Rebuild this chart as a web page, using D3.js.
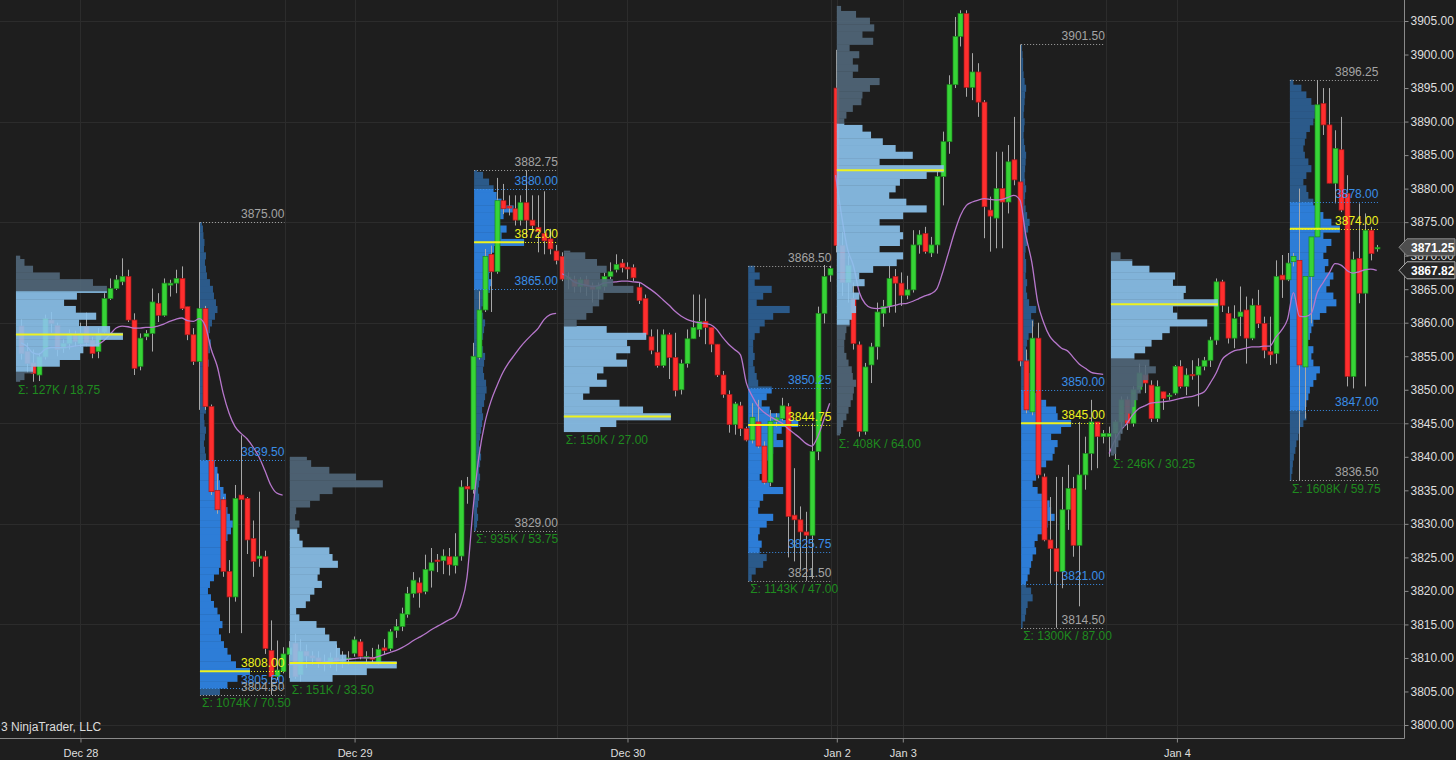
<!DOCTYPE html>
<html><head><meta charset="utf-8">
<script src="https://cdn.jsdelivr.net/npm/d3@7/dist/d3.min.js"></script>
<style>
html,body{margin:0;padding:0;background:#1e1e1e;overflow:hidden;}
svg{display:block;font-family:"Liberation Sans",Arial,Helvetica,sans-serif;}
</style></head><body>
<svg id="chart" width="1456" height="760"></svg>
<script>
// ---------------- DATA ----------------
const candleOpen = [
3859.5,3855.7,3854,3852.2,3854.9,3860.4,3859.6,3856.2,3856.9,3858.2,
3856.9,3859.4,3857.4,3855.7,3858.6,3863.6,3865.1,3866.1,3866.9,3860.4,
3853.5,3857.9,3858.4,3862.9,3861.1,3865.6,3865.9,3866.6,3862.4,3858.2,
3854.2,3862.1,3847.5,3835,3833.6,3822.9,3819.1,3834.3,3833.8,3827.8,
3824.8,3825.1,3811.1,3807.2,3808,3810.5,3812.2,3807.5,3811,3810.3,
3810,3809.4,3809,3810,3809.5,3809.8,3810.7,3812.4,3810,3810.1,
3809.4,3811.5,3811.4,3814.1,3814.7,3816.5,3819.6,3821.2,3819.9,3823,
3824.6,3824.5,3825.1,3823.8,3825.2,3835.6,3835.1,3854.8,3861.9,3870.2,
3867.6,3878.2,3877.4,3877,3875.3,3877.9,3875.3,3874.2,3873.3,3872.5,
3870.7,3869.9,3866.5,3866.4,3865.4,3866.4,3865.5,3865,3865.4,3866.9,
3867.9,3868.9,3868.3,3868.2,3865.3,3863.6,3857.9,3855.6,3853.6,3858.2,
3854.8,3850,3853.9,3857.6,3859,3860.2,3859.3,3856.8,3852.2,3849.3,
3844.8,3847.6,3844.2,3842.5,3845.2,3841.6,3836.2,3845.3,3845.7,3847.5,
3831.3,3830.6,3828.8,3828.3,3840.8,3861.4,3867.1,3895,3871.5,3866,
3863.6,3856.7,3843.8,3853.7,3856.4,3861.4,3862.4,3866.9,3865.9,3864.1,
3864.9,3871.6,3873.3,3870.4,3871.6,3881.8,3887,3895.5,3902.7,3906.1,
3895.1,3897.4,3892.9,3876.8,3875.6,3880,3878,3884.3,3881,3854.3,
3846.7,3857.7,3837,3827.6,3826.3,3822.9,3832.1,3835.3,3826.8,3837.3,
3840.5,3845.2,3843,3843,3843.5,3845.2,3848.5,3845,3850,3852.2,
3850.7,3845.7,3849.7,3849,3849.5,3853.5,3850.5,3852.3,3852.2,3853.5,
3854.4,3857.4,3866.1,3861.4,3857.7,3860.9,3861.9,3857.7,3862.6,3859.9,
3855.7,3855.4,3867.1,3866.4,3869.1,3869.3,3853.4,3866.9,3872.8,3892.7,
3889.5,3880.8,3885.8,3879.3,3852,3869.6,3864.4,3873.8,3871];
const candleHigh = [
3860.5,3857,3856,3855.5,3861.2,3861.6,3860,3857.5,3859,3858.8,
3860,3861.5,3857.9,3859.2,3864.4,3866.6,3867.1,3869.6,3867.9,3861.4,
3858.4,3858.9,3865.1,3864.4,3866.6,3866.4,3867.9,3868.4,3862.4,3859.2,
3875,3862.5,3847.8,3837.5,3834,3824.6,3835.8,3843.2,3834,3830.5,
3834.8,3826,3815.6,3812.6,3811.6,3812.5,3813.6,3812.8,3812,3811,
3811,3810.5,3810.8,3812,3811,3811,3813.2,3812.8,3811,3811.5,
3812,3812.8,3814.3,3815.8,3817.5,3820.6,3822.8,3822,3825.4,3826.4,
3825.5,3826.2,3826.4,3828.6,3836.5,3837,3857,3864.7,3871,3871.5,
3881.6,3880.7,3879,3879,3879,3882.75,3879,3879,3879.6,3874,
3871.6,3870.5,3867.5,3867,3866.8,3867,3866,3866,3867.5,3869,
3870.2,3869.5,3869,3868.7,3866,3864.2,3859,3859,3859,3858.5,
3858.5,3854.5,3859,3864.2,3864.2,3863.6,3859.3,3856.8,3852.8,3849.9,
3848.2,3848.2,3844.5,3848,3848.5,3842.3,3847,3846.5,3848.8,3848,
3838.3,3832.6,3831.8,3845,3862.4,3868.6,3868.5,3900.7,3873.5,3870,
3866,3857.2,3854,3857,3863,3863.4,3868.5,3868,3867.5,3867,
3873.8,3873.8,3874.3,3872.8,3882.8,3888.5,3896.9,3905.6,3906.6,3906.6,
3900.2,3898.7,3893.2,3878.8,3885.5,3885.5,3886.5,3890.7,3901.5,3856,
3860.3,3860,3837.5,3834,3837,3837,3838.8,3837,3845.2,3843,
3848.5,3845.2,3844,3844.5,3845.5,3849,3849,3850.5,3853.9,3853.7,
3851.4,3851.4,3849.7,3849.5,3853.7,3854.4,3853.2,3854.4,3854.7,3854.9,
3857.9,3866.6,3866.4,3862.4,3862.6,3865.4,3863.9,3863.6,3864.9,3860.9,
3860.9,3869.3,3870.1,3870.4,3870.4,3880,3866.9,3872.8,3896.2,3895,
3895,3888.7,3890.7,3882,3870.6,3877.8,3876.3,3874.3,3871.6];
const candleLow = [
3854.5,3852.5,3851.2,3851.3,3854.5,3858.5,3855,3855.5,3856,3856.5,
3856.4,3856.5,3854.7,3854.7,3858.4,3863.4,3864.9,3865.6,3860.1,3852.2,
3852.9,3857.4,3855.7,3860.1,3860.9,3863.9,3864.4,3861.9,3857.4,3853.7,
3847,3847,3834.3,3831.5,3822.1,3813.7,3818.4,3813.7,3825.5,3822.1,
3823.6,3810.6,3804.5,3806.7,3807.7,3807,3806.9,3806.5,3808.5,3809,
3808.5,3808,3808.5,3808,3808.5,3809,3810.2,3809.8,3809,3809.3,
3809,3810.5,3811,3813,3814,3816,3819,3817.5,3819.5,3820.5,
3822.8,3822.5,3822.3,3822.6,3824.5,3833,3834.5,3854.5,3861.6,3861.6,
3867.3,3876.2,3876,3874.5,3874.5,3872.7,3873.3,3870.5,3870.2,3870.2,
3868.7,3866.2,3865,3864.5,3864.5,3864,3863,3863.5,3864.8,3866.5,
3867.5,3867.5,3866.5,3866.2,3862.8,3857.8,3855.3,3853.3,3853.3,3851.6,
3849,3849.3,3853.3,3857.6,3857.9,3856.8,3855.6,3851.9,3848.8,3843.6,
3843.3,3843.1,3842.3,3842,3841.3,3835.9,3835.6,3844.5,3845.4,3825,
3824.4,3823.2,3821.5,3821.8,3839.5,3859.9,3866.1,3870.5,3864,3863,
3856,3843,3843.3,3851,3854.5,3859.4,3861.5,3861.5,3862.5,3863.5,
3864.5,3870.3,3870.3,3869.8,3870.3,3877.5,3885.2,3895,3901.2,3893.7,
3893.2,3890.7,3872.6,3870.6,3871.1,3871.1,3876.3,3880.5,3853.5,3846.5,
3846.2,3836.8,3827.4,3821.1,3814.5,3820.4,3829.1,3825.1,3817.7,3835.1,
3838,3838.3,3842,3840,3839.5,3843.5,3844,3844.5,3849.7,3849.5,
3845.2,3845.2,3847,3848.5,3849.2,3850.2,3849.2,3851.5,3847.5,3852.9,
3853.4,3856.7,3861.6,3856.9,3856.2,3858,3853.9,3857.4,3859.2,3854.7,
3853.7,3853.9,3863.7,3866.2,3868.4,3836.5,3845.7,3859.9,3872.8,3888,
3880.8,3877.8,3876.5,3850.5,3850.2,3862.9,3850.5,3869.3,3870.6];
const candleClose = [
3855.4,3853.9,3852.4,3854.9,3860.6,3859.9,3856,3856.9,3858.4,3857.2,
3858.4,3857,3855.4,3858.4,3863.6,3865.1,3866.4,3866.9,3860.4,3853.2,
3857.7,3858.4,3863.1,3861.1,3865.9,3865.9,3866.6,3862.1,3858.2,3854.2,
3862.1,3847.5,3834.8,3832.1,3822.9,3819.1,3833.8,3833.6,3827.6,3824.4,
3825.2,3811.4,3807.2,3808.2,3810.6,3811.5,3807.2,3811,3810.3,3810,
3809.4,3809,3810,3809.5,3809.8,3810,3812.7,3810.2,3810.2,3809.8,
3811.3,3811.1,3813.9,3814.7,3816.6,3819.6,3821.6,3819.7,3823.2,3824.2,
3824.4,3825.2,3823.9,3825.1,3835.5,3835.2,3855,3861.9,3869.9,3867.6,
3878.2,3877,3877.1,3875.3,3877.9,3875.3,3874.5,3873.6,3872.2,3871,
3869.3,3866.5,3866.8,3865.4,3866.4,3865.4,3865,3865.5,3866.9,3867.6,
3868.7,3868.2,3868,3866.7,3863.3,3858.2,3855.9,3853.6,3858.2,3854.8,
3849.9,3853.9,3857.6,3859.3,3860.2,3859.3,3856.8,3852.2,3849.3,3844.8,
3847.9,3844.2,3842.5,3845.9,3841.6,3836.2,3845.3,3845.8,3847.6,3831.1,
3830.6,3828.8,3828.3,3840.8,3861.4,3866.9,3868.1,3871.5,3866,3868.5,
3856.9,3843.8,3853.4,3856.4,3861.6,3862.4,3866.6,3865.9,3864.1,3864.9,
3871.6,3873.1,3870.6,3871.6,3881.8,3887,3895.5,3902.7,3906.1,3895.1,
3897.4,3892.9,3877.3,3875.9,3880,3878,3884,3881.3,3854.3,3847,
3857.7,3837.3,3827.6,3826.3,3822.9,3832.1,3835.3,3826.8,3837.3,3840.5,
3845.2,3843,3843.5,3843.5,3845.2,3848.5,3845,3850,3852.5,3851,
3845.7,3850.5,3848.7,3849.2,3853.5,3850.5,3852.2,3852.1,3853.5,3854.4,
3857.4,3866.1,3862.6,3857.7,3860.6,3861.6,3857.7,3862.6,3859.9,3855.9,
3855.2,3866.9,3866.4,3868.9,3869.9,3853.7,3866.9,3872.8,3892.5,3889.5,
3880.8,3886,3876.8,3852,3869.4,3864.4,3873.8,3870.3,3871.25];
const vwapValues = [
3857,3856.5,3855.5,3855.3,3856,3856.3,3856.3,3856.3,3856.4,3856.5,
3856.6,3856.7,3856.6,3856.8,3857.4,3858.3,3859.2,3859.5,3859.4,3859.2,
3859.2,3859.3,3859.3,3859.5,3859.8,3860.2,3860.5,3860.7,3860.3,3860.2,
3860.6,3859.5,3856,3853.5,3849.5,3846.5,3844.5,3843.5,3842.7,3841.5,
3840,3838,3835.8,3834.6,3834.3,
3809,3809,3809,3809.2,3809.2,3809.3,3809.4,3809.5,3809.6,3809.7,
3809.8,3809.9,3810,3810,3810,3810.2,3810.5,3810.8,3811.1,3811.5,
3812,3812.6,3813.1,3813.6,3814.2,3814.7,3815.2,3815.7,3816.2,3818,
3822,3832,3840,3845,3848.2,3850.5,3852.5,3854,3855.2,3856.4,
3857.4,3858.3,3859.2,3860.5,3861.2,3861.4,
3867.3,3866.8,3866.1,3865.8,3865.6,3865.4,3865.5,3865.9,3866,3866.1,
3866.2,3866.2,3866.1,3866,3865.5,3864.9,3864.2,3863.4,3862.6,3861.7,
3861,3860.5,3860.2,3860,3859.9,3859.7,3859,3857.8,3856.8,3856,
3855.2,3851,3849,3847.5,3846.6,3846,3845.5,3845,3844.2,3843.5,
3842.8,3842,3841.6,3843,3845.5,3848,
3882,3876,3871,3868.5,3864.5,3862.8,3862.2,3862.1,3862.2,3862.4,
3862.6,3862.8,3862.9,3863.2,3863.6,3864,3864.3,3865,3867.5,3870.5,
3873.5,3876,3877.5,3878,3878.3,3878.5,3878.4,3878.3,3878.4,3878.7,
3879,3878.3,3873,3869,3863,3860,3858,3857,3856.2,3855.8,
3854.8,3853.8,3853.2,3852.6,3852.4,3852.3,
3840.5,3842.5,3844,3845,3846.3,3847.2,3847.6,3848,3848.1,3848.2,
3848.3,3848.5,3848.7,3848.9,3849,3849.3,3849.7,3851,3852.5,3854.5,
3855.3,3855.8,3856,3856.2,3856.4,3856.4,3856.5,3856.5,3857.8,3858.9,
3860.5,3864.5,3861,3860.9,3861.4,3864.5,3866,3867.4,3868.8,3868.6,
3867.8,3867.4,3867.6,3867.9,3868,3867.82];
const sessionStart = [0, 45, 91, 137, 183];
const sessionEnd   = [44, 90, 136, 182, 228];

const dateTickIdx = [10, 56.1, 102, 137.2, 148.3, 194.4];
const dateTickLabels = ['Dec 28', 'Dec 29', 'Dec 30', 'Jan 2', 'Jan 3', 'Jan 4'];
const sessionCloseIdx = [44.4, 90.2, 136.3, 182.4];
const priceTicks = d3.range(3800, 3905.1, 5);
const gridPrices = d3.range(3800, 3905.1, 15);

// profiles A..J
const profKind  = ['eth','rth','eth','rth','eth','rth','eth','rth','eth','rth'];
const profStart = [-0.85, 30.1, 45.2, 76.2, 91.3, 122.3, 137.2, 168.2, 183.3, 213.4];
const profEnd   = [29.5, 44.3, 75.5, 90.3, 121.5, 136.3, 167.5, 182.3, 213, 228.3];
const profLow   = [3851.25, 3804.5, 3806.5, 3829, 3843.75, 3821.5, 3843.25, 3814.5, 3840.25, 3836.5];
const profHigh  = [3870, 3875, 3840, 3882.75, 3870.75, 3868.5, 3907.25, 3901.5, 3870.5, 3896.25];
const profVAL   = [3852.75, 3805.5, 3806.5, 3865, 3843.75, 3825.75, 3859.75, 3821, 3854.75, 3847];
const profVAH   = [3864.75, 3839.5, 3829.25, 3880, 3859.5, 3850.25, 3889.75, 3850, 3869.25, 3878];
const profPOC   = [3858.25, 3808, 3809.25, 3872, 3846, 3844.75, 3882.75, 3845, 3862.75, 3874];
const profVolK  = [127, 1074, 151, 935, 150, 1143, 408, 1300, 246, 1608];
const profFirstLevel = [3851, 3805, 3807, 3829, 3844, 3822, 3843, 3815, 3840, 3837];

const volA = [4,8,16,41,60,63,78,100,88,59,75,56,45,57,85,72,41,16,8,4];
const volB = [40,55,75,100,72,62,55,48,42,38, 45,40,35,28,22,16,20,28,38,45,
  48,52,45,55,62,66,60,55,50,52, 47,40,38,35,30,12,10,8,10,12,
  9,8,12,14,12,15,14,16,14,18, 16,20,22,18,20,24,30,35,32,28,
  26,20,14,12,10,12,8,9,7,6, 4];
const volC = [40,72,100,53,47,44,37,33,25,9, 6,15,19,23,30,26,28,45,40,37,
  12,9,7,9,5,6,19,28,40,87, 62,37,20,16];
const volD = [4,6,8,6,8,10,8,10,12,10, 12,14,12,10,12,14,16,18,16,20,
  22,25,24,20,18,20,22,18,15,18, 20,22,18,15,20,24,32,36,30,32,
  38,35,40,100,55,65,52,59,79,55, 45,39,30,18,6];
const volE = [34,49,100,74,52,18,24,40,31,37,59,49,62,59,77,40,12,21,27,33,37,65,46,34,40,31,20,6];
const volF = [7,15,30,37,23,27,20,23,37,50, 20,23,30,70,43,23,30,37,43,50,
  70,57,67,100,70,43,27,37,47,20, 17,13,10,13,10,10,13,23,33,50,
  83,17,30,47,13,23,13];
const volG = [3,4,6,9,11,13,15,16,18,15, 14,11,9,7,7,8,9,12,14,18,
  17,21,15,26,21,34,56,62,40,59, 62,59,40,62,84,65,49,55,59,84,
  100,40,71,55,43,32,24,7,9,15, 23,24,31,40,15,20,15,21,12,34,
  24,35,31,18,4];
const volH = [3,8,10,13,23,20,10,13,17,20, 23,30,27,33,43,53,67,60,57,43,
  33,23,30,37,50,63,67,73,60,80, 100,73,70,50,35,23,
  18,20,15,16,12,10,12,15,22,25, 20,30,16,12,10,12,9,10,10,8,
  9,12,10,14,17,12,9,7,8,10, 8,7,8,9,10,8,6,5,6,7,
  5,6,7,8,10,7,5,4,4,3, 2];
const volI = [3,5,7,9,11,13,16,20,22,25, 28,30,35,42,36,22,32,38,48,55,
  90,62,58,100,68,70,58,60,36,20, 9];
const volJ = [3,5,6,8,11,13,17,20,27,33, 30,33,37,40,47,53,60,47,43,47,
  33,40,43,47,60,73,93,87,73,80, 87,70,77,67,73,83,67,100,83,67,
  53,47,37,33,27,33,43,37,30,27, 30,33,40,47,50,53,43,33,23,7];
const profileVolumes = [volA, volB, volC, volD, volE, volF, volG, volH, volI, volJ];

// ---------------- STYLE ----------------
const W = 1456, H = 760, AXIS_X = 1404, AXIS_Y = 738;
const ETH_W = 107, RTH_W = 50;
const C = {
  bg:'#1e1e1e', grid:'#2c2c2c', axis:'#8a8a8a', axisText:'#dedede',
  up:'#37d437', upStroke:'#1c8a1c', down:'#ff2e2e', downStroke:'#a81a1a', wick:'#a8a8a8',
  vwap:'#b777cc', ethVA:'#8cc4ee', ethOut:'#52687a', rthVA:'#2d7dd7', rthOut:'#2b5a8a',
  hiLo:'#a4a4a4', va:'#3a8ee8', poc:'#eef21e', sigma:'#1f8a1f'
};

const x = d3.scaleLinear().domain([0, 228]).range([21, 1376.7]);
const y = d3.scaleLinear().domain([3800, 3905]).range([725, 21]);
const fmt = d3.format('.2f');

const svg = d3.select('#chart');
svg.append('rect').attr('width', W).attr('height', H).attr('fill', C.bg);

// grid
const gridG = svg.append('g');
gridG.selectAll('line.gh').data(gridPrices).join('line').attr('class','gh')
  .attr('x1', 0).attr('x2', AXIS_X)
  .attr('y1', d => Math.round(y(d)) + 0.5).attr('y2', d => Math.round(y(d)) + 0.5)
  .attr('stroke', C.grid);
gridG.selectAll('line.gv').data(dateTickIdx.concat(sessionCloseIdx)).join('line').attr('class','gv')
  .attr('x1', d => Math.round(x(d)) + 0.5).attr('x2', d => Math.round(x(d)) + 0.5)
  .attr('y1', 0).attr('y2', AXIS_Y).attr('stroke', C.grid);

// profile row builder
function profileRows(k) {
  const vols = profileVolumes[k], first = profFirstLevel[k];
  const lo0 = profLow[k], hi0 = profHigh[k], val = profVAL[k], vah = profVAH[k];
  const wScale = d3.scaleLinear().domain([0, 100]).range([0, profKind[k] === 'eth' ? ETH_W : RTH_W]);
  const rows = [];
  vols.forEach((v, i) => {
    const L = first + i;
    const a = Math.max(L - 0.5, lo0), b = Math.min(L + 0.5, hi0);
    if (b <= a) return;
    const cuts = Array.from(new Set([a, b, val, vah].filter(c => c >= a && c <= b))).sort((p, q) => p - q);
    for (let j = 0; j < cuts.length - 1; j++) {
      const s = cuts[j], e = cuts[j + 1], mid = (s + e) / 2;
      rows.push({ s, e, w: wScale(v), va: mid >= val && mid <= vah });
    }
  });
  return rows;
}
function drawProfile(layer, k) {
  const xs = x(profStart[k]);
  const eth = profKind[k] === 'eth';
  layer.append('g').selectAll('rect').data(profileRows(k)).join('rect')
    .attr('x', xs).attr('y', d => y(d.e))
    .attr('width', d => d.w).attr('height', d => y(d.s) - y(d.e) + 0.4)
    .attr('fill', d => eth ? (d.va ? C.ethVA : C.ethOut) : (d.va ? C.rthVA : C.rthOut));
}

const profIdx = d3.range(profKind.length);
// RTH profiles behind candles
const rthLayer = svg.append('g');
profIdx.filter(k => profKind[k] === 'rth').forEach(k => drawProfile(rthLayer, k));

// candles
const idx = d3.range(candleOpen.length);
const candleG = svg.append('g');
candleG.selectAll('line.wick').data(idx).join('line').attr('class','wick')
  .attr('x1', i => Math.round(x(i)) + 0.5).attr('x2', i => Math.round(x(i)) + 0.5)
  .attr('y1', i => y(candleHigh[i])).attr('y2', i => y(candleLow[i]))
  .attr('stroke', C.wick).attr('stroke-width', 1);
candleG.selectAll('rect.body').data(idx).join('rect').attr('class','body')
  .attr('x', i => Math.round(x(i)) - 2)
  .attr('y', i => y(Math.max(candleOpen[i], candleClose[i])))
  .attr('width', 5)
  .attr('height', i => Math.max(1.5, y(Math.min(candleOpen[i], candleClose[i])) - y(Math.max(candleOpen[i], candleClose[i]))))
  .attr('fill', i => candleClose[i] >= candleOpen[i] ? C.up : C.down)
  .attr('stroke', i => candleClose[i] >= candleOpen[i] ? C.upStroke : C.downStroke)
  .attr('stroke-width', 0.7);

// VWAP per session
const vwapLine = d3.line().x(i => x(i)).y(i => y(vwapValues[i])).curve(d3.curveMonotoneX);
svg.append('g').selectAll('path').data(sessionStart.map((s, j) => d3.range(s, sessionEnd[j] + 1))).join('path')
  .attr('d', vwapLine).attr('fill', 'none').attr('stroke', C.vwap).attr('stroke-width', 1.3);

// ETH profiles over candles (semi-transparent)
const ethLayer = svg.append('g').attr('opacity', 0.9);
profIdx.filter(k => profKind[k] === 'eth').forEach(k => drawProfile(ethLayer, k));

// profile lines and labels
const annG = svg.append('g').attr('font-size', 12);
profIdx.forEach(k => {
  const xs = x(profStart[k]), xe = x(profEnd[k]);
  const eth = profKind[k] === 'eth';
  if (!eth) {
    const lines = [
      { p: profHigh[k], c: C.hiLo }, { p: profVAH[k], c: C.va },
      { p: profVAL[k], c: C.va }, { p: profLow[k], c: C.hiLo }, { p: profPOC[k], c: C.poc }
    ];
    lines.forEach(l => {
      annG.append('line').attr('x1', xs).attr('x2', xe)
        .attr('y1', Math.round(y(l.p)) + 0.5).attr('y2', Math.round(y(l.p)) + 0.5)
        .attr('stroke', l.c).attr('stroke-width', 1).attr('stroke-dasharray', '1,2');
    });
    annG.append('line').attr('x1', xs).attr('x2', xs + RTH_W)
      .attr('y1', y(profPOC[k])).attr('y2', y(profPOC[k]))
      .attr('stroke', C.poc).attr('stroke-width', 2);
    lines.forEach(l => {
      annG.append('text').attr('x', xe).attr('y', y(l.p) - 4)
        .attr('text-anchor', 'end').attr('fill', l.c).text(fmt(l.p));
    });
  } else {
    annG.append('line').attr('x1', xs).attr('x2', xs + ETH_W)
      .attr('y1', y(profPOC[k])).attr('y2', y(profPOC[k]))
      .attr('stroke', C.poc).attr('stroke-width', 2);
  }
  annG.append('text').attr('x', xs + 2).attr('y', y(profLow[k]) + 12.5)
    .attr('fill', C.sigma).text(`Σ: ${profVolK[k]}K / ${fmt(profHigh[k] - profLow[k])}`);
});

// axes
const axG = svg.append('g');
axG.append('line').attr('x1', AXIS_X + 0.5).attr('x2', AXIS_X + 0.5).attr('y1', 0).attr('y2', AXIS_Y + 0.5).attr('stroke', C.axis);
axG.append('line').attr('x1', 0).attr('x2', AXIS_X + 0.5).attr('y1', AXIS_Y + 0.5).attr('y2', AXIS_Y + 0.5).attr('stroke', C.axis);

const yAxis = d3.axisRight(y).tickValues(priceTicks).tickFormat(fmt).tickSize(4).tickPadding(2);
const yG = svg.append('g').attr('transform', `translate(${AXIS_X + 0.5},0)`).call(yAxis);
yG.select('.domain').remove();
yG.selectAll('line').attr('stroke', C.axis);
yG.selectAll('text').attr('fill', C.axisText).attr('font-size', 12).attr('font-family', '"Liberation Sans",Arial,sans-serif');

const xAxis = d3.axisBottom(x).tickValues(dateTickIdx).tickFormat((d, i) => dateTickLabels[i]).tickSize(4).tickPadding(7);
const xG = svg.append('g').attr('transform', `translate(0,${AXIS_Y + 0.5})`).call(xAxis);
xG.select('.domain').remove();
xG.selectAll('line').attr('stroke', C.axis);
xG.selectAll('text').attr('fill', C.axisText).attr('font-size', 11).attr('font-family', '"Liberation Sans",Arial,sans-serif');

// price flags
function flag(price, fill, stroke) {
  const yy = y(price);
  svg.append('path')
    .attr('d', `M${AXIS_X - 5},${yy} L${AXIS_X + 3},${yy - 8.5} L${W - 1},${yy - 8.5} L${W - 1},${yy + 8.5} L${AXIS_X + 3},${yy + 8.5} Z`)
    .attr('fill', fill).attr('stroke', stroke).attr('stroke-width', 1);
  svg.append('text').attr('x', AXIS_X + 7).attr('y', yy + 4.5).attr('fill', '#ffffff')
    .attr('font-size', 12).attr('font-weight', 'bold').text(fmt(price));
}
flag(candleClose[candleClose.length - 1], '#4e4e4e', '#8c8c8c');
flag(vwapValues[vwapValues.length - 1], '#262626', '#b0b0b0');

// copyright (left part is cut off by the chart edge in the original)
svg.append('text').attr('x', 1).attr('y', 731)
  .attr('fill', '#dcdcdc').attr('font-size', 12).text('3 NinjaTrader, LLC');
</script></body></html>
